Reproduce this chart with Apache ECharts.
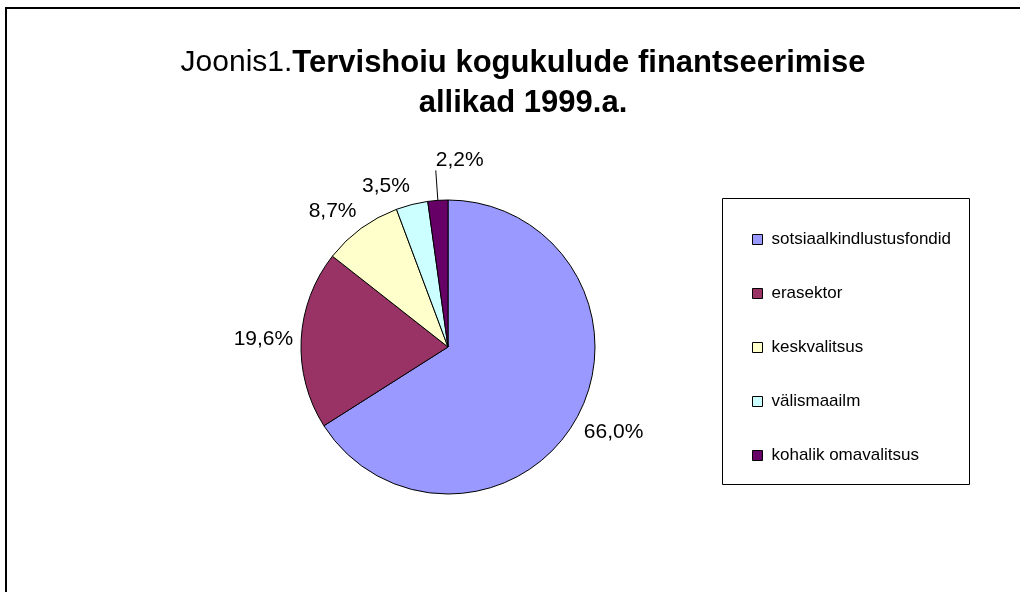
<!DOCTYPE html>
<html>
<head>
<meta charset="utf-8">
<script src="https://cdn.jsdelivr.net/npm/echarts@6/dist/echarts.min.js"></script>
<style>
  html, body { margin: 0; padding: 0; background: #fff; }
  #main { width: 1020px; height: 592px; }
</style>
</head>
<body>
<div id="main"></div>
<script>
// rahastamise allikad, osakaal %
var categories = ['sotsiaalkindlustusfondid', 'erasektor', 'keskvalitsus', 'välismaailm', 'kohalik omavalitsus'];
var shares = [66.0, 19.6, 8.7, 3.5, 2.2];
var colors = ['#9999FF', '#993366', '#FFFFCC', '#CCFFFF', '#660066'];

var font = 'Arial, "Liberation Sans", sans-serif';

var pieData = categories.map(function (name, i) {
  var item = { name: name, value: shares[i], itemStyle: { color: colors[i] } };
  if (i === 4) {
    // väikseim sektor saab juhtjoone
    item.labelLine = { show: true, length: 30, length2: 0 };
  }
  return item;
});

var myChart = echarts.init(document.getElementById('main'));
myChart.setOption({
  animation: false,
  backgroundColor: '#fff',
  title: {
    text: '{a|Joonis1.}{b|Tervishoiu kogukulude finantseerimise}\n{b|allikad 1999.a.}',
    left: 518,
    top: 38,
    textAlign: 'center',
    textStyle: {
      align: 'center',
      lineHeight: 40,
      rich: {
        a: { fontFamily: font, fontSize: 30, fontWeight: 'normal', color: '#000', lineHeight: 40 },
        b: { fontFamily: font, fontSize: 31, fontWeight: 'bold', color: '#000', lineHeight: 40 }
      }
    }
  },
  legend: {
    orient: 'vertical',
    left: 747,
    top: 226,
    icon: 'rect',
    itemWidth: 10,
    itemHeight: 10,
    itemGap: 37,
    itemStyle: { borderColor: '#000', borderWidth: 1 },
    textStyle: { fontFamily: font, fontSize: 17, color: '#000', padding: [0, 0, 0, 4] },
    data: categories
  },
  graphic: [
    {
      type: 'rect',
      shape: { x: 6, y: 8, width: 1100, height: 700 },
      style: { fill: null, stroke: '#000', lineWidth: 2 },
      silent: true
    },
    {
      type: 'rect',
      shape: { x: 722.5, y: 198.5, width: 247, height: 286 },
      style: { fill: null, stroke: '#000', lineWidth: 1 },
      silent: true
    }
  ],
  series: [{
    type: 'pie',
    center: [448, 347],
    radius: 147,
    startAngle: 90,
    clockwise: true,
    data: pieData,
    itemStyle: { borderColor: '#000', borderWidth: 1 },
    label: {
      show: true,
      position: 'outside',
      distanceToLabelLine: 0,
      fontFamily: font,
      fontSize: 21,
      color: '#000',
      formatter: function (p) {
        return p.value.toFixed(1).replace('.', ',') + '%';
      }
    },
    labelLine: { show: false, length: 8, length2: 0, lineStyle: { color: '#000', width: 1 } },
    labelLayout: function (p) {
      if (p.dataIndex === 0) return { verticalAlign: 'top' };
      if (p.dataIndex === 2 || p.dataIndex === 3) return { verticalAlign: 'bottom' };
      if (p.dataIndex === 4) return { align: 'left', verticalAlign: 'bottom' };
      return {};
    },
    emphasis: { disabled: true }
  }]
});
</script>
</body>
</html>
